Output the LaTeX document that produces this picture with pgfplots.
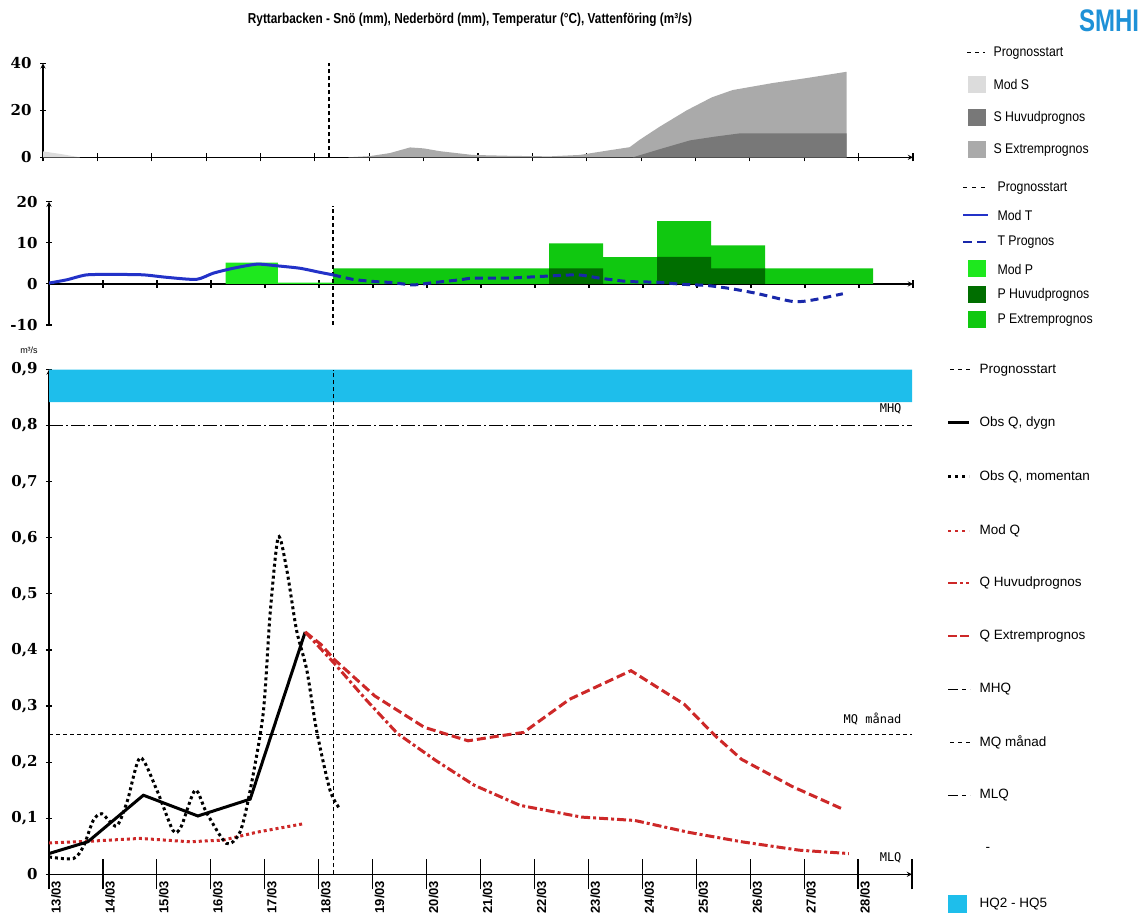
\documentclass[border=0pt]{standalone}
\usepackage{fontspec}
\setmainfont{Liberation Sans}
\newfontfamily\tickfont{DejaVu Serif}
\newfontfamily\titlefont[FakeStretch=0.82]{Liberation Sans}
\newfontfamily\legfont[FakeStretch=0.88]{Liberation Sans}
\newfontfamily\legfontb{Liberation Sans}
\newfontfamily\monofont{DejaVu Sans Mono}
\usepackage{pgfplots}
\pgfplotsset{compat=1.18}
\definecolor{modS}{HTML}{DCDCDC}
\definecolor{sHuv}{HTML}{787878}
\definecolor{sExt}{HTML}{AAAAAA}
\definecolor{modT}{RGB}{35,50,200}
\definecolor{tProg}{RGB}{25,40,170}
\definecolor{modP}{RGB}{30,232,30}
\definecolor{pHuv}{RGB}{0,110,0}
\definecolor{pExt}{RGB}{16,200,16}
\definecolor{hq}{RGB}{30,190,235}
\definecolor{qred}{RGB}{205,40,40}
\definecolor{smhi}{RGB}{30,145,215}
\newcommand{\tf}{\tickfont\bfseries\fontsize{15}{15}\selectfont}
\pgfplotsset{
  every axis/.append style={
    scale only axis, enlargelimits=false, xmin=0, xmax=16,
    axis line style={-, line width=1.3pt, black},
    tick align=outside, major tick length=6pt,
    tick style={black, line width=1.2pt},
    yticklabel style={font=\tf, xshift=-5pt},
    xtick={0,...,16},
  }
}
\begin{document}
\begin{tikzpicture}[x=1pt,y=1pt]
\useasboundingbox (0,0) rectangle (1148,922);

% ---------------- Top panel: snow
\begin{axis}[at={(43pt,764.7pt)}, anchor=south west, width=870pt, height=94pt,
  ymin=0, ymax=40, axis x line=bottom, axis y line=left,
  xticklabels=\empty, xtick style={/pgfplots/major tick length=8pt},
  ytick={0,20,40}, yticklabels={0,20,40}]
\addplot[fill=sExt, draw=none] coordinates {(5.61,0)(6.01,0.5)(6.38,1.8)(6.75,4.2)(7.0,3.8)(7.30,2.6)(7.90,1.0)(8.64,0.6)(9.32,0.4)(9.87,1.0)(10.42,3.0)(10.79,4.3)(10.97,7.4)(11.34,13)(11.84,20)(12.3,25.5)(12.68,28.6)(13.42,31.6)(14.04,33.7)(14.78,36.4)} \closedcycle;
\addplot[fill=sHuv, draw=none] coordinates {(10.85,0)(11.35,3.5)(11.9,7.2)(12.36,8.8)(12.82,10.2)(14.78,10.2)} \closedcycle;
\addplot[fill=modS, draw=none] coordinates {(0,2.5)(0.3,1.5)(0.68,0)} \closedcycle;
\addplot[black, line width=1.1pt, dash pattern=on 4pt off 3pt] coordinates {(5.26,0)(5.26,40)};
\end{axis}

% ---------------- Middle panel: temperature / precipitation
\begin{axis}[at={(49pt,597pt)}, anchor=south west, width=864pt, height=123.3pt,
  ymin=-10, ymax=20, axis x line=middle, axis y line=left,
  xticklabels=\empty, xtick style={/pgfplots/major tick length=8pt},
  ytick={-10,0,10,20}, yticklabels={-10,0,10,20}]
\addplot[const plot mark left, fill=pExt, draw=none] coordinates {(5.26,3.8)(9.26,9.85)(10.26,6.5)(11.26,15.3)(12.26,9.4)(13.26,3.8)(15.26,3.8)} \closedcycle;
\addplot[const plot mark left, fill=pHuv, draw=none] coordinates {(9.26,3.8)(10.26,0)(11.26,6.6)(12.26,3.8)(13.26,3.8)} \closedcycle;
\addplot[const plot mark left, fill=modP, draw=none] coordinates {(3.27,5.2)(4.24,0.3)(5.26,0.3)} \closedcycle;
\addplot[black, line width=1.1pt, dash pattern=on 4pt off 3pt] coordinates {(5.26,-10)(5.26,19)};
\addplot[modT, line width=3pt, smooth, tension=0.4] coordinates {(0,0.2)(0.33,1.0)(0.7,2.2)(1.25,2.3)(1.75,2.2)(2.18,1.6)(2.73,1.1)(3.04,2.6)(3.41,3.8)(3.85,4.8)(4.22,4.4)(4.65,3.8)(5.02,2.8)(5.26,2.2)};
\addplot[tProg, line width=3pt, dash pattern=on 8pt off 5pt, smooth, tension=0.4] coordinates {(5.26,2.2)(5.63,1.1)(6.0,0.6)(6.37,0.3)(6.74,-0.25)(7.11,0.3)(7.61,1.0)(7.85,1.4)(8.48,1.4)(9.09,1.8)(9.78,2.2)(10.2,1.4)(10.7,0.6)(11.26,0.4)(11.74,-0.1)(12.19,-0.4)(12.6,-1.1)(13.1,-2.3)(13.78,-4.3)(14.15,-3.9)(14.7,-2.4)};
\end{axis}

% ---------------- Bottom panel: discharge
\begin{axis}[at={(49pt,47.7pt)}, anchor=south west, width=863pt, height=504.8pt,
  ymin=0, ymax=0.9, axis x line=bottom, axis y line=left,
  xticklabels={13/03,14/03,15/03,16/03,17/03,18/03,19/03,20/03,21/03,22/03,23/03,24/03,25/03,26/03,27/03,28/03,{}},
  xtick style={/pgfplots/major tick length=30pt},
  xticklabel style={font=\legfontb\bfseries\fontsize{13}{13}\selectfont, rotate=90, anchor=east, yshift=-7pt},
  ytick={0,0.1,0.2,0.3,0.4,0.5,0.6,0.7,0.8,0.9},
  yticklabels={0,{0,1},{0,2},{0,3},{0,4},{0,5},{0,6},{0,7},{0,8},{0,9}}]
\addplot[fill=hq, draw=none] coordinates {(0,0.842)(16,0.842)(16,0.9)(0,0.9)(0,0.842)};
\addplot[black, line width=1pt, dash pattern=on 14pt off 3pt on 2pt off 3pt] coordinates {(0,0.8)(16,0.8)};
\addplot[black, line width=1pt, dash pattern=on 4pt off 3pt] coordinates {(0,0.25)(16,0.25)};
\addplot[black, line width=1pt, dash pattern=on 14pt off 3pt on 2pt off 3pt] coordinates {(0,0)(16,0)};
\addplot[black, line width=1.1pt, dash pattern=on 4pt off 3pt] coordinates {(5.27,0)(5.27,0.9)};
\addplot[qred, line width=3pt, dash pattern=on 3pt off 3pt] coordinates {(0,0.056)(0.76,0.059)(1.69,0.064)(2.61,0.058)(3.23,0.061)(3.85,0.075)(4.71,0.09)};
\addplot[black, line width=3pt, dash pattern=on 3pt off 3pt, smooth, tension=0.45] coordinates {(0,0.031)(0.45,0.028)(0.64,0.05)(0.82,0.096)(0.98,0.108)(1.25,0.086)(1.45,0.13)(1.69,0.208)(2.0,0.15)(2.3,0.078)(2.45,0.085)(2.71,0.15)(2.92,0.11)(3.29,0.055)(3.54,0.075)(3.72,0.145)(3.97,0.286)(4.1,0.465)(4.25,0.601)(4.41,0.542)(4.59,0.435)(4.78,0.364)(4.96,0.257)(5.21,0.15)(5.39,0.117)};
\addplot[black, line width=3pt] coordinates {(0,0.037)(0.72,0.058)(1.75,0.141)(2.76,0.104)(3.73,0.134)(4.75,0.432)};
\addplot[qred, line width=3pt, dash pattern=on 9pt off 3pt on 3pt off 3pt] coordinates {(4.75,0.432)(5.29,0.376)(5.89,0.31)(6.46,0.251)(7.17,0.203)(7.88,0.159)(8.73,0.123)(9.87,0.102)(10.86,0.096)(11.85,0.075)(12.84,0.058)(13.91,0.043)(14.83,0.037)};
\addplot[qred, line width=3pt, dash pattern=on 9pt off 4pt] coordinates {(4.75,0.432)(5.04,0.41)(5.29,0.383)(6.04,0.318)(6.96,0.262)(7.77,0.238)(8.3,0.246)(8.8,0.253)(9.65,0.312)(10.79,0.363)(11.78,0.303)(12.35,0.247)(12.84,0.205)(13.77,0.157)(14.72,0.116)};
\node[anchor=east, font=\monofont\fontsize{12}{12}\selectfont] at (axis cs:15.87,0.83) {MHQ};
\node[anchor=east, font=\monofont\fontsize{12}{12}\selectfont] at (axis cs:15.87,0.276) {MQ månad};
\node[anchor=east, font=\monofont\fontsize{12}{12}\selectfont] at (axis cs:15.87,0.03) {MLQ};
\end{axis}

% ---------------- Titles
\node[font=\titlefont\bfseries\fontsize{14.4}{14.4}\selectfont] at (470,902) {Ryttarbacken - Snö (mm), Nederbörd (mm), Temperatur (°C), Vattenföring (m³/s)};
\node[text=smhi, font=\bfseries\fontsize{24}{24}\selectfont, yscale=1.3] at (1109,901) {SMHI};
\node[font=\fontsize{9}{9}\selectfont] at (29,572) {m³/s};

% ---------------- Legend group 1
\begin{scope}[every node/.style={anchor=west, font=\legfont\fontsize{14}{14}\selectfont}]
\draw[line width=1pt, dash pattern=on 4pt off 4pt] (967,869) -- (985,869);
\node at (990,869) {Prognosstart};
\fill[modS] (968,828.5) rectangle (986,845.5); \node at (990,837) {Mod S};
\fill[sHuv] (968,795.5) rectangle (986,812.5); \node at (990,804) {S Huvudprognos};
\fill[sExt] (968,763.5) rectangle (986,780.5); \node at (990,772) {S Extremprognos};
% group 2
\draw[line width=1pt, dash pattern=on 4pt off 5pt] (963,734) -- (989,734);
\node at (994,734) {Prognosstart};
\draw[modT, line width=2.5pt] (963,707) -- (988,707); \node at (994,707) {Mod T};
\draw[tProg, line width=2.5pt, dash pattern=on 9pt off 5pt] (963,680) -- (990,680); \node at (994,680) {T Prognos};
\fill[modP] (968,644.5) rectangle (986,661.5); \node at (994,653) {Mod P};
\fill[pHuv] (968,618.5) rectangle (986,635.5); \node at (994,627) {P Huvudprognos};
\fill[pExt] (968,593.5) rectangle (986,610.5); \node at (994,602) {P Extremprognos};
\end{scope}

% group 3
\begin{scope}[every node/.style={anchor=west, font=\legfontb\fontsize{13.5}{13.5}\selectfont}]
\draw[line width=1pt, dash pattern=on 4pt off 4pt] (950,552) -- (970,552); \node at (976,552) {Prognosstart};
\draw[line width=3pt] (948,499) -- (969,499); \node at (976,499) {Obs Q, dygn};
\draw[line width=3pt, dash pattern=on 3pt off 4pt] (948,445) -- (969,445); \node at (976,445) {Obs Q, momentan};
\draw[qred, line width=2pt, dash pattern=on 3pt off 4pt] (948,391) -- (969,391); \node at (976,391) {Mod Q};
\draw[qred, line width=2pt, dash pattern=on 9pt off 3pt on 3pt off 3pt] (948,339) -- (969,339); \node at (976,339) {Q Huvudprognos};
\draw[qred, line width=2pt, dash pattern=on 9pt off 3pt] (948,286) -- (969,286); \node at (976,286) {Q Extremprognos};
\draw[line width=1pt, dash pattern=on 10pt off 4pt on 4pt off 4pt] (948,233) -- (970,233); \node at (976,233) {MHQ};
\draw[line width=1pt, dash pattern=on 4pt off 4pt] (950,180) -- (970,180); \node at (976,180) {MQ månad};
\draw[line width=1pt, dash pattern=on 10pt off 4pt on 4pt off 4pt] (948,127) -- (970,127); \node at (976,127) {MLQ};
\node at (982,73) {-};
\fill[hq] (948,9) rectangle (967,27); \node at (976,18) {HQ2 - HQ5};
\end{scope}
\end{tikzpicture}
\end{document}
